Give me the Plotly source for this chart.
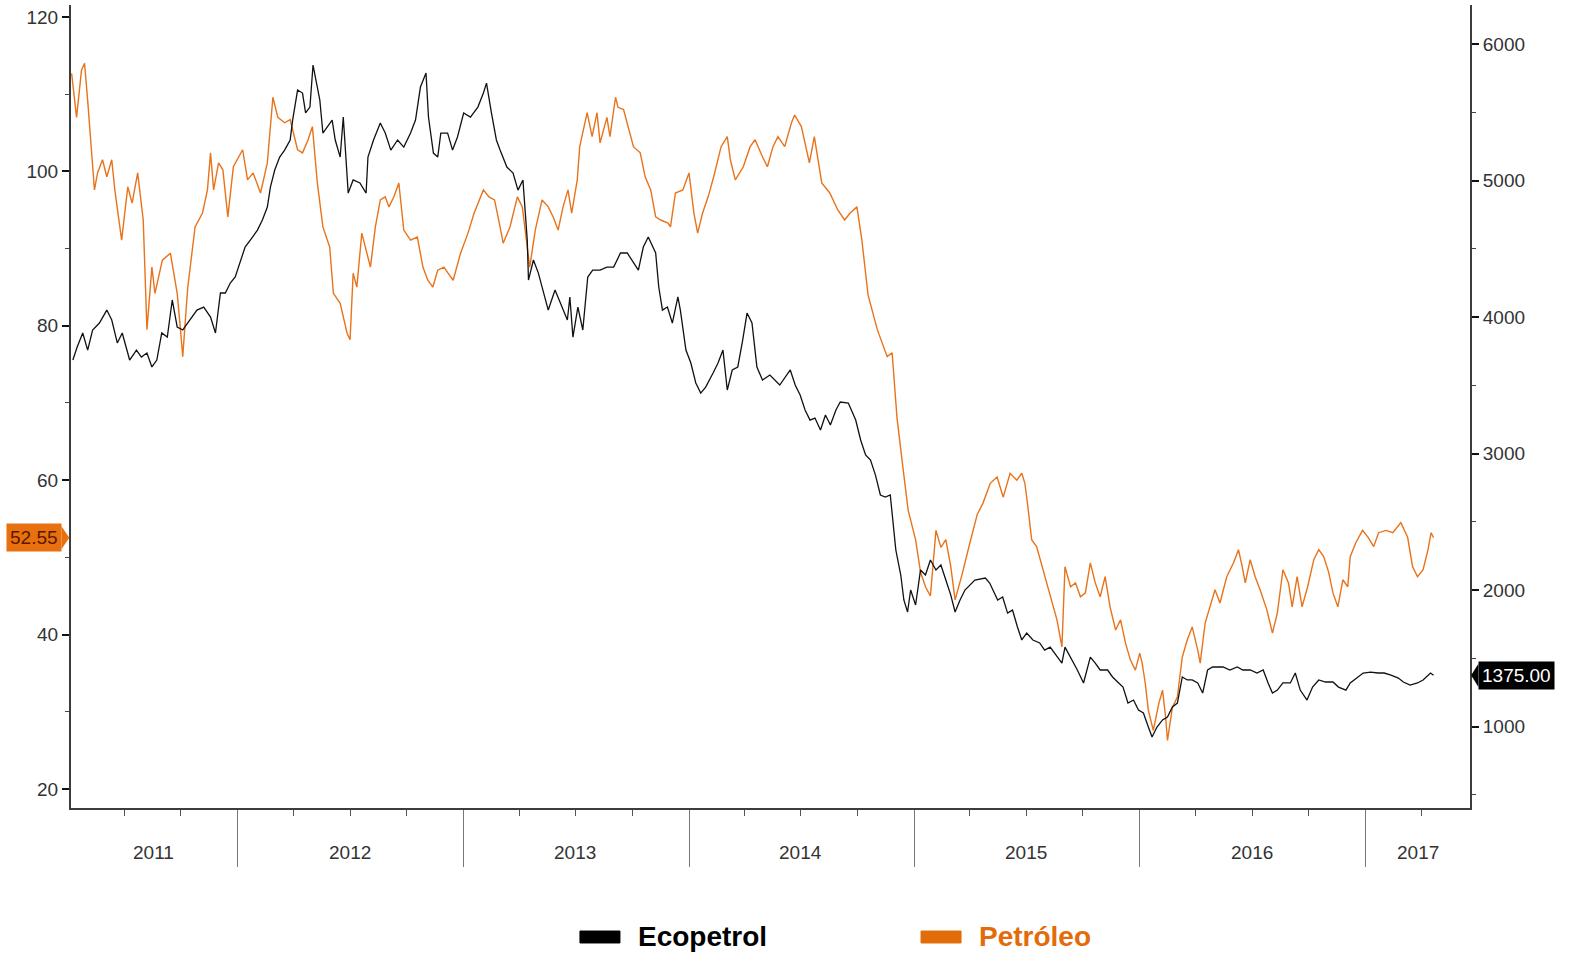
import plotly.graph_objects as go

# ---------------- data ----------------
oil_dates = [
    "2011-04-07", "2011-04-15", "2011-04-23", "2011-04-28", "2011-05-03", "2011-05-08", "2011-05-14", "2011-05-19",
    "2011-05-27", "2011-06-03", "2011-06-11", "2011-06-16", "2011-06-24", "2011-06-27", "2011-07-07", "2011-07-14",
    "2011-07-23", "2011-08-01", "2011-08-07", "2011-08-15", "2011-08-20", "2011-09-01", "2011-09-14", "2011-09-25",
    "2011-09-30", "2011-10-04", "2011-10-12", "2011-10-24", "2011-11-05", "2011-11-13", "2011-11-18", "2011-11-23",
    "2011-12-01", "2011-12-08", "2011-12-16", "2011-12-25",
    "2012-01-09", "2012-01-17", "2012-01-26", "2012-02-07", "2012-02-18", "2012-02-27", "2012-03-06", "2012-03-17",
    "2012-03-26", "2012-04-07", "2012-04-15", "2012-04-24", "2012-05-01", "2012-05-09", "2012-05-18", "2012-05-29",
    "2012-06-04", "2012-06-15", "2012-06-26", "2012-07-01", "2012-07-06", "2012-07-12", "2012-07-20", "2012-07-29",
    "2012-08-03", "2012-08-11", "2012-08-19", "2012-08-27", "2012-09-02", "2012-09-10", "2012-09-18", "2012-09-26",
    "2012-10-07", "2012-10-18", "2012-10-27", "2012-11-04", "2012-11-12", "2012-11-20", "2012-11-30", "2012-12-07",
    "2012-12-15", "2012-12-27",
    "2013-01-08", "2013-01-18", "2013-02-02", "2013-02-11", "2013-02-20", "2013-03-01", "2013-03-06", "2013-03-17",
    "2013-03-29", "2013-04-06", "2013-04-18", "2013-04-27", "2013-05-08", "2013-05-18", "2013-05-26", "2013-06-03",
    "2013-06-11", "2013-06-19", "2013-06-25", "2013-07-04", "2013-07-08", "2013-07-20", "2013-07-28", "2013-08-05",
    "2013-08-10", "2013-08-21", "2013-08-26", "2013-09-04", "2013-09-08", "2013-09-17", "2013-09-25", "2013-10-03",
    "2013-10-14", "2013-10-22", "2013-10-31", "2013-11-08", "2013-11-16", "2013-11-28", "2013-12-02", "2013-12-10",
    "2013-12-22",
    "2014-01-01", "2014-01-09", "2014-01-15", "2014-01-23", "2014-02-01", "2014-02-10", "2014-02-22", "2014-03-04",
    "2014-03-09", "2014-03-17", "2014-03-30", "2014-04-10", "2014-04-18", "2014-04-30", "2014-05-08", "2014-05-17",
    "2014-05-25", "2014-06-05", "2014-06-16", "2014-06-21", "2014-07-02", "2014-07-15", "2014-07-23", "2014-08-04",
    "2014-08-17", "2014-08-30", "2014-09-10", "2014-09-19", "2014-09-30", "2014-10-08", "2014-10-18", "2014-11-02",
    "2014-11-18", "2014-11-26", "2014-12-04", "2014-12-14", "2014-12-22",
    "2015-01-03", "2015-01-11", "2015-01-19", "2015-01-27", "2015-02-05", "2015-02-13", "2015-02-21", "2015-03-01",
    "2015-03-08", "2015-03-19", "2015-04-01", "2015-04-13", "2015-04-22", "2015-05-04", "2015-05-15", "2015-05-25",
    "2015-06-05", "2015-06-16", "2015-06-24", "2015-06-29", "2015-07-04", "2015-07-10", "2015-07-18", "2015-07-27",
    "2015-08-04", "2015-08-12", "2015-08-20", "2015-08-28", "2015-09-02", "2015-09-11", "2015-09-19", "2015-09-27",
    "2015-10-05", "2015-10-13", "2015-10-21", "2015-10-29", "2015-11-06", "2015-11-14", "2015-11-23", "2015-12-01",
    "2015-12-09", "2015-12-17", "2015-12-25",
    "2016-01-01", "2016-01-05", "2016-01-10", "2016-01-15", "2016-01-23", "2016-02-01", "2016-02-07", "2016-02-12",
    "2016-02-15", "2016-02-23", "2016-03-02", "2016-03-10", "2016-03-18", "2016-03-26", "2016-04-04", "2016-04-08",
    "2016-04-16", "2016-04-24", "2016-05-02", "2016-05-10", "2016-05-21", "2016-06-01", "2016-06-09", "2016-06-15",
    "2016-06-20", "2016-06-28", "2016-07-06", "2016-07-14", "2016-07-25", "2016-08-03", "2016-08-11", "2016-08-20",
    "2016-08-29", "2016-09-04", "2016-09-12", "2016-09-20", "2016-09-29", "2016-10-09", "2016-10-17", "2016-10-25",
    "2016-11-02", "2016-11-09", "2016-11-17", "2016-11-25", "2016-12-03", "2016-12-07", "2016-12-16", "2016-12-27",
    "2017-01-05", "2017-01-14", "2017-01-22", "2017-02-03", "2017-02-14", "2017-02-27", "2017-03-10", "2017-03-18",
    "2017-03-26", "2017-04-04", "2017-04-12", "2017-04-17", "2017-04-21",
]
oil_values = [
    112.7, 107.0, 113.1, 114.0, 109.2, 103.7, 97.6, 99.8,
    101.5, 99.3, 101.5, 97.6, 92.8, 91.1, 98.0, 95.9,
    99.8, 93.7, 79.5, 87.6, 84.2, 88.5, 89.4, 84.2,
    79.8, 76.0, 84.9, 92.8, 94.6, 97.6, 102.4, 97.6,
    101.1, 100.2, 94.1, 100.6,
    102.8, 98.9, 99.8, 97.2, 101.1, 109.6, 107.0, 106.3,
    106.7, 102.8, 102.4, 104.1, 105.8, 98.5, 92.8, 90.2,
    84.2, 82.9, 79.1, 78.2, 86.8, 85.0, 92.0, 89.4,
    87.6, 92.8, 96.3, 96.7, 95.4, 96.7, 98.5, 92.4,
    91.1, 91.5, 87.6, 85.9, 85.0, 87.2, 87.6, 86.8,
    85.9, 89.4,
    92.0, 94.6, 97.6, 96.7, 96.3, 92.8, 90.7, 92.8,
    96.7, 95.4, 87.6, 92.4, 96.3, 95.4, 94.1, 92.4,
    95.4, 97.6, 94.6, 98.9, 103.2, 107.6, 104.5, 107.6,
    103.7, 107.0, 104.5, 109.6, 108.3, 108.0, 105.4, 103.2,
    102.4, 99.3, 97.6, 94.1, 93.7, 93.3, 92.8, 97.2,
    97.6,
    99.8, 94.6, 92.0, 94.6, 96.7, 99.3, 103.2, 104.5,
    101.5, 98.9, 100.6, 103.2, 104.1, 101.9, 100.6, 103.2,
    104.5, 103.2, 106.3, 107.3, 105.8, 101.1, 104.5, 98.5,
    97.2, 95.0, 93.7, 94.6, 95.4, 91.1, 84.0, 79.5,
    76.0, 76.5, 68.0, 61.3, 56.1,
    52.3, 48.1, 46.2, 45.0, 53.5, 51.3, 52.3, 48.8,
    44.5, 47.7, 51.9, 55.6, 57.0, 59.6, 60.4, 57.8,
    60.9, 60.0, 60.9, 59.6, 56.5, 52.3, 51.4, 48.8,
    46.7, 44.1, 41.9, 38.4, 48.8, 46.2, 46.7, 44.9,
    45.4, 49.3, 46.7, 44.9, 47.5, 43.6, 40.6, 41.9,
    38.9, 36.7, 35.4,
    37.6, 36.3, 33.7, 30.2, 27.6, 31.1, 32.8, 29.3,
    26.3, 30.6, 31.9, 37.1, 39.3, 41.0, 38.0, 36.3,
    41.5, 43.6, 45.8, 44.1, 47.5, 49.3, 51.0, 48.8,
    46.7, 49.7, 47.5, 45.8, 43.2, 40.2, 42.8, 48.4,
    46.7, 43.6, 47.5, 43.6, 46.2, 49.7, 51.0, 50.1,
    48.1, 45.4, 43.6, 47.1, 46.2, 50.1, 51.9, 53.5,
    52.6, 51.4, 53.2, 53.5, 53.2, 54.5, 52.6, 48.8,
    47.5, 48.4, 51.0, 53.2, 52.55,
]

eco_dates = [
    "2011-04-09", "2011-04-16", "2011-04-25", "2011-05-03", "2011-05-11", "2011-05-22", "2011-06-03", "2011-06-11",
    "2011-06-20", "2011-06-28", "2011-07-10", "2011-07-21", "2011-07-29", "2011-08-07", "2011-08-15", "2011-08-23",
    "2011-08-31", "2011-09-09", "2011-09-17", "2011-09-25", "2011-10-04", "2011-10-15", "2011-10-27", "2011-11-07",
    "2011-11-18", "2011-11-26", "2011-12-04", "2011-12-12", "2011-12-20", "2011-12-28",
    "2012-01-05", "2012-01-13", "2012-01-25", "2012-02-02", "2012-02-10", "2012-02-18", "2012-02-23", "2012-03-01",
    "2012-03-09", "2012-03-17", "2012-03-26", "2012-03-30", "2012-04-07", "2012-04-15", "2012-04-20", "2012-04-27",
    "2012-05-02", "2012-05-09", "2012-05-13", "2012-05-18", "2012-05-25", "2012-06-02", "2012-06-07", "2012-06-15",
    "2012-06-20", "2012-06-26", "2012-06-28", "2012-07-06", "2012-07-17", "2012-07-27", "2012-07-30", "2012-08-08",
    "2012-08-19", "2012-08-27", "2012-09-05", "2012-09-16", "2012-09-26", "2012-10-07", "2012-10-15", "2012-10-23",
    "2012-11-01", "2012-11-05", "2012-11-13", "2012-11-20", "2012-11-25", "2012-12-06", "2012-12-14", "2012-12-22",
    "2013-01-01", "2013-01-12", "2013-01-24", "2013-02-02", "2013-02-07", "2013-02-15", "2013-02-23", "2013-03-01",
    "2013-03-12", "2013-03-22", "2013-03-30", "2013-04-07", "2013-04-14", "2013-04-16", "2013-04-24", "2013-05-02",
    "2013-05-08", "2013-05-18", "2013-05-29", "2013-06-09", "2013-06-18", "2013-06-22", "2013-06-27", "2013-07-05",
    "2013-07-13", "2013-07-21", "2013-07-29", "2013-08-10", "2013-08-21", "2013-09-01", "2013-09-12", "2013-09-23",
    "2013-10-03", "2013-10-11", "2013-10-19", "2013-10-27", "2013-11-08", "2013-11-13", "2013-11-19", "2013-11-27",
    "2013-12-05", "2013-12-14", "2013-12-18", "2013-12-27",
    "2014-01-04", "2014-01-12", "2014-01-20", "2014-01-28", "2014-02-09", "2014-02-17", "2014-02-25", "2014-03-04",
    "2014-03-12", "2014-03-21", "2014-03-29", "2014-04-05", "2014-04-13", "2014-04-21", "2014-04-30", "2014-05-12",
    "2014-05-28", "2014-06-14", "2014-06-22", "2014-06-30", "2014-07-08", "2014-07-16", "2014-07-24", "2014-08-02",
    "2014-08-10", "2014-08-18", "2014-08-27", "2014-09-03", "2014-09-16", "2014-09-28", "2014-10-06", "2014-10-14",
    "2014-10-22", "2014-10-30", "2014-11-07", "2014-11-15", "2014-11-23", "2014-12-02", "2014-12-10", "2014-12-15",
    "2014-12-21", "2014-12-26",
    "2015-01-03", "2015-01-11", "2015-01-19", "2015-01-27", "2015-02-05", "2015-02-13", "2015-02-21", "2015-03-01",
    "2015-03-08", "2015-03-16", "2015-03-24", "2015-04-09", "2015-04-26", "2015-05-03", "2015-05-16", "2015-05-24",
    "2015-06-01", "2015-06-09", "2015-06-17", "2015-06-24", "2015-07-02", "2015-07-12", "2015-07-23", "2015-07-31",
    "2015-08-09", "2015-08-20", "2015-08-28", "2015-09-02", "2015-09-11", "2015-09-22", "2015-10-02", "2015-10-13",
    "2015-10-21", "2015-10-29", "2015-11-10", "2015-11-18", "2015-11-28", "2015-12-05", "2015-12-13", "2015-12-22",
    "2015-12-30",
    "2016-01-07", "2016-01-15", "2016-01-21", "2016-01-29", "2016-02-07", "2016-02-15", "2016-02-23", "2016-03-02",
    "2016-03-10", "2016-03-18", "2016-03-26", "2016-04-04", "2016-04-12", "2016-04-20", "2016-04-28", "2016-05-05",
    "2016-05-15", "2016-05-26", "2016-06-07", "2016-06-16", "2016-06-28", "2016-07-09", "2016-07-19", "2016-07-27",
    "2016-08-03", "2016-08-11", "2016-08-20", "2016-09-01", "2016-09-09", "2016-09-17", "2016-09-28", "2016-10-07",
    "2016-10-17", "2016-10-28", "2016-11-09", "2016-11-18", "2016-11-30", "2016-12-07", "2016-12-19", "2016-12-28",
    "2017-01-09", "2017-01-21", "2017-01-31", "2017-02-11", "2017-02-23", "2017-03-03", "2017-03-14", "2017-03-26",
    "2017-04-04", "2017-04-16", "2017-04-21",
]
eco_values = [
    3685, 3780, 3883, 3758, 3905, 3956, 4051, 3978,
    3810, 3883, 3685, 3758, 3707, 3736, 3634, 3685,
    3883, 3853, 4125, 3927, 3905, 3978, 4051, 4073,
    4000, 3883, 4176, 4176, 4249, 4293,
    4396, 4513, 4586, 4637, 4711, 4806, 4952, 5077,
    5172, 5223, 5297, 5443, 5663, 5641, 5495, 5538,
    5846, 5663, 5590, 5348, 5392, 5443, 5297, 5172,
    5465, 5055, 4908, 5004, 4982, 4908, 5172, 5297,
    5421, 5348, 5223, 5297, 5245, 5348, 5443, 5685,
    5788, 5465, 5201, 5172, 5348, 5348, 5223, 5319,
    5495, 5465, 5538, 5641, 5714, 5495, 5297, 5223,
    5099, 5055, 4930, 5004, 4564, 4271, 4418, 4322,
    4220, 4051, 4198, 4073, 3978, 4147, 3853, 4073,
    3905, 4293, 4344, 4344, 4366, 4366, 4469, 4469,
    4396, 4344, 4513, 4586, 4469, 4220, 4051, 4073,
    3956, 4147, 4051, 3758,
    3663, 3517, 3443, 3487, 3590, 3663, 3758, 3465,
    3612, 3634, 3832, 4029, 3956, 3634, 3538, 3575,
    3502, 3612, 3502, 3429, 3319, 3245, 3260, 3172,
    3282, 3209, 3319, 3377, 3370, 3245, 3099, 2989,
    2952, 2842, 2696, 2681, 2696, 2293, 2110, 1927,
    1839, 2000,
    1890, 2147, 2110, 2220, 2147, 2183, 2073, 1963,
    1839, 1927, 2000, 2073, 2088, 2051, 1927, 1949,
    1831, 1853, 1729, 1634, 1685, 1634, 1612, 1560,
    1582, 1509, 1465, 1582, 1509, 1414, 1319, 1509,
    1465, 1414, 1414, 1363, 1319, 1289, 1172, 1194,
    1121,
    1099, 996, 923, 996, 1048, 1070, 1143, 1172,
    1363, 1341, 1341, 1319, 1245, 1414, 1436, 1436,
    1436, 1414, 1436, 1414, 1414, 1392, 1414, 1319,
    1245, 1267, 1319, 1319, 1392, 1267, 1194, 1289,
    1341, 1326, 1326, 1289, 1267, 1319, 1363, 1392,
    1399, 1392, 1392, 1377, 1355, 1326, 1304, 1319,
    1341, 1392, 1375,
]

year_labels = ["2011", "2012", "2013", "2014", "2015", "2016", "2017"]
year_label_dates = ["2011-08-18", "2012-07-01", "2013-07-01", "2014-07-01", "2015-07-01", "2016-07-01", "2017-03-26"]
year_starts = ["2012-01-01", "2013-01-01", "2014-01-01", "2015-01-01", "2016-01-01", "2017-01-01"]
left_ticks = [20, 40, 60, 80, 100, 120]
right_ticks = [1000, 2000, 3000, 4000, 5000, 6000]

series_names = ["Ecopetrol", "Petróleo"]
ORANGE = "#E8731A"
LEG_ORANGE = "#E36C0A"
BLACK = "#111111"
AXIS = "#3c3c3c"
TXT = "#333333"
FONT = "Liberation Sans, Arial, sans-serif"

fig = go.Figure()

fig.add_trace(go.Scatter(x=oil_dates, y=oil_values, mode="lines", yaxis="y", name=series_names[1],
                         line=dict(color=ORANGE, width=1.4), showlegend=False, hoverinfo="skip"))
fig.add_trace(go.Scatter(x=eco_dates, y=eco_values, mode="lines", yaxis="y2", name=series_names[0],
                         line=dict(color=BLACK, width=1.3), showlegend=False, hoverinfo="skip"))

fig.update_layout(
    width=1571, height=956,
    margin=dict(l=71, r=101, t=5, b=148, autoexpand=False),
    paper_bgcolor="white", plot_bgcolor="white",
    font=dict(family=FONT, color=TXT, size=19),
    showlegend=False,
    xaxis=dict(
        type="date", range=["2011-04-06", "2017-06-19"],
        showgrid=False, zeroline=False,
        showline=True, linecolor=AXIS, linewidth=2,
        tickmode="array", tickvals=year_starts, showticklabels=False,
        ticks="outside", ticklen=57, tickwidth=1, tickcolor="#777777",
        minor=dict(ticks="outside", ticklen=6, tickwidth=1, tickcolor="#555555",
                   dtick="M3", tick0="2011-01-01", showgrid=False),
    ),
    yaxis=dict(
        range=[17.54, 121.55], showgrid=False, zeroline=False,
        showline=True, linecolor=AXIS, linewidth=2,
        tickmode="array", tickvals=left_ticks,
        ticks="outside", ticklen=7, tickwidth=2, tickcolor="#111111",
        minor=dict(ticks="outside", ticklen=4, tickwidth=1, tickcolor="#444444", dtick=10, showgrid=False),
        tickfont=dict(size=19, color=TXT, family=FONT),
    ),
    yaxis2=dict(
        overlaying="y", side="right", anchor="x",
        range=[403, 6286], showgrid=False, zeroline=False,
        showline=True, linecolor=AXIS, linewidth=2,
        tickmode="array", tickvals=right_ticks, tickformat="d",
        ticks="outside", ticklen=7, tickwidth=2, tickcolor="#111111",
        minor=dict(ticks="outside", ticklen=4, tickwidth=1, tickcolor="#444444", dtick=500, showgrid=False),
        tickfont=dict(size=19, color=TXT, family=FONT),
    ),
)

# year labels under the axis
for lab, d in zip(year_labels, year_label_dates):
    fig.add_annotation(x=d, xref="x", y=-0.056, yref="paper", text=lab, showarrow=False,
                       font=dict(size=19, color=TXT, family=FONT), xanchor="center", yanchor="middle")

# last-value tags (with small pointers towards the axis)
last_oil = oil_values[-1]
last_eco = eco_values[-1]
fig.add_annotation(x=-0.0066, xref="paper", y=last_oil, yref="y", text="%.2f" % last_oil,
                   showarrow=False, xanchor="right", yanchor="middle",
                   font=dict(size=19, color="#5a1800", family=FONT),
                   bgcolor="#E8700E", borderpad=3)
fig.add_shape(type="path", xref="paper", yref="y",
              path="M -0.0068,%f L -0.0012,%f L -0.0068,%f Z" % (last_oil + 1.5, last_oil, last_oil - 1.5),
              fillcolor="#E8700E", line=dict(width=0))
fig.add_annotation(x=1.0058, xref="paper", y=last_eco, yref="y2", text="%.2f" % last_eco,
                   showarrow=False, xanchor="left", yanchor="middle",
                   font=dict(size=19, color="white", family=FONT),
                   bgcolor="#000000", borderpad=3)
fig.add_shape(type="path", xref="paper", yref="y2",
              path="M 1.006,%f L 1.0008,%f L 1.006,%f Z" % (last_eco + 85, last_eco, last_eco - 85),
              fillcolor="#000000", line=dict(width=0))

# legend drawn below the chart
legend_items = [(series_names[0], "#000000", 0.3638), (series_names[1], LEG_ORANGE, 0.6076)]
for name, col, x0 in legend_items:
    fig.add_shape(type="rect", xref="paper", yref="paper", x0=x0, x1=x0 + 0.0286, y0=-0.1681, y1=-0.1532,
                  fillcolor=col, line=dict(color=col, width=1))
    fig.add_annotation(x=x0 + 0.0401, xref="paper", y=-0.1606, yref="paper", text="<b>%s</b>" % name,
                       showarrow=False, xanchor="left", yanchor="middle",
                       font=dict(size=28, color=col, family=FONT))

fig.write_html("out.html", config={"displayModeBar": False},
               post_script="document.body.style.margin='0px';")
